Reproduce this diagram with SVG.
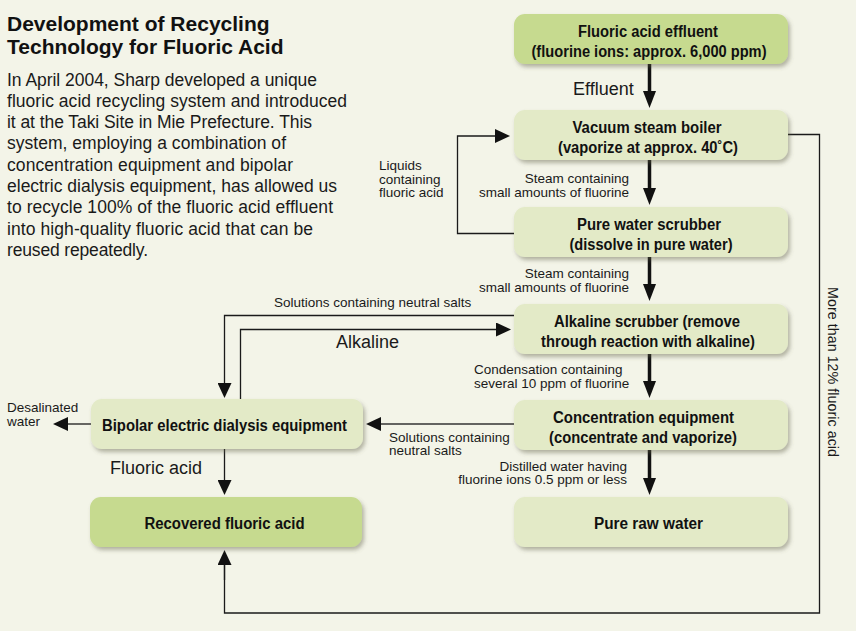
<svg xmlns="http://www.w3.org/2000/svg" width="856" height="631" viewBox="0 0 856 631">
<style>
.bg{fill:#f3f4e8}
.box{stroke:none;filter:url(#sh)}
.dark{fill:#c6da8f}
.light{fill:#e3eac7}
.nt{font-family:"Liberation Sans",Arial,sans-serif;font-weight:bold;font-size:16px;fill:#111;text-anchor:middle}
.sm{font-family:"Liberation Sans",Arial,sans-serif;font-size:13.5px;fill:#1a1a1a}
.lg{font-family:"Liberation Sans",Arial,sans-serif;font-size:18px;fill:#1a1a1a}
.body{font-family:"Liberation Sans",Arial,sans-serif;font-size:17.5px;fill:#1a1a1a}
.head{font-family:"Liberation Sans",Arial,sans-serif;font-size:21px;font-weight:bold;fill:#111}
.thick{stroke:#111;stroke-width:3.5;fill:none;marker-end:url(#ah)}
.thin{stroke:#1a1a1a;stroke-width:1.3;fill:none}
.tha{marker-end:url(#at)}
.r{text-anchor:end}
</style>
<defs>
<filter id="sh" x="-10%" y="-20%" width="125%" height="160%">
<feDropShadow dx="2" dy="3" stdDeviation="2" flood-color="#5e5e45" flood-opacity="0.45"/>
</filter>
<marker id="ah" markerUnits="userSpaceOnUse" markerWidth="17" markerHeight="13" refX="7" refY="6.5" orient="auto">
<path d="M0,0 L17,6.5 L0,13 Z" fill="#111"/>
</marker>
<marker id="at" markerUnits="userSpaceOnUse" markerWidth="15" markerHeight="14" refX="5" refY="7" orient="auto">
<path d="M0,0 L15,7 L0,14 Z" fill="#111"/>
</marker>
</defs>
<rect class="bg" x="0" y="0" width="856" height="631"/>

<g id="intro">
<text class="head" x="7" y="31">Development of Recycling</text>
<text class="head" x="7" y="54">Technology for Fluoric Acid</text>
<text class="body" x="7" y="85.5" textLength="310" lengthAdjust="spacing">In April 2004, Sharp developed a unique</text>
<text class="body" x="7" y="106.8" textLength="340" lengthAdjust="spacing">fluoric acid recycling system and introduced</text>
<text class="body" x="7" y="128.1" textLength="305" lengthAdjust="spacing">it at the Taki Site in Mie Prefecture. This</text>
<text class="body" x="7" y="149.4" textLength="279" lengthAdjust="spacing">system, employing a combination of</text>
<text class="body" x="7" y="170.7" textLength="286" lengthAdjust="spacing">concentration equipment and bipolar</text>
<text class="body" x="7" y="192" textLength="330" lengthAdjust="spacing">electric dialysis equipment, has allowed us</text>
<text class="body" x="7" y="213.3" textLength="326" lengthAdjust="spacing">to recycle 100% of the fluoric acid effluent</text>
<text class="body" x="7" y="234.6" textLength="306" lengthAdjust="spacing">into high-quality fluoric acid that can be</text>
<text class="body" x="7" y="255.9" textLength="141" lengthAdjust="spacing">reused repeatedly.</text>
</g>

<g id="connectors">
<line class="thick" x1="649.5" y1="64" x2="649.5" y2="98"/>
<line class="thick" x1="649.5" y1="160" x2="649.5" y2="195"/>
<line class="thick" x1="649.5" y1="257" x2="649.5" y2="291"/>
<line class="thick" x1="649.5" y1="354" x2="649.5" y2="388"/>
<line class="thick" x1="649.5" y1="450" x2="649.5" y2="485"/>
<polyline class="thin tha" points="514,233.5 457.5,233.5 457.5,136 500,136"/>
<polyline class="thin" points="788,134.5 819.5,134.5 819.5,613 224.5,613 224.5,560"/>
<line class="thin tha" x1="224.5" y1="580" x2="224.5" y2="560"/>
<polyline class="thin tha" points="514,315.5 224.5,315.5 224.5,388"/>
<polyline class="thin tha" points="240.5,399 240.5,329.5 501,329.5"/>
<line class="thin tha" x1="514" y1="424" x2="376" y2="424" style="stroke:#333;stroke-width:1.6"/>
<line class="thin tha" x1="91" y1="424" x2="63" y2="424"/>
<line class="thin tha" x1="224.5" y1="449" x2="224.5" y2="485"/>
<text class="lg" x="573" y="95">Effluent</text>
<text class="sm" x="379" y="170">Liquids</text>
<text class="sm" x="379" y="183.5">containing</text>
<text class="sm" x="379" y="197">fluoric acid</text>
<text class="sm r" x="629" y="183">Steam containing</text>
<text class="sm r" x="629" y="196.5">small amounts of fluorine</text>
<text class="sm r" x="629" y="278">Steam containing</text>
<text class="sm r" x="629" y="291.5">small amounts of fluorine</text>
<text class="sm" x="274" y="306.5">Solutions containing neutral salts</text>
<text class="lg" x="336" y="348">Alkaline</text>
<text class="sm" x="474" y="374">Condensation containing</text>
<text class="sm" x="474" y="387.5">several 10 ppm of fluorine</text>
<text class="sm" x="389" y="441.5">Solutions containing</text>
<text class="sm" x="389" y="455">neutral salts</text>
<text class="sm r" x="627" y="470.5">Distilled water having</text>
<text class="sm r" x="627" y="484">fluorine ions 0.5 ppm or less</text>
<text class="sm" x="7" y="412">Desalinated</text>
<text class="sm" x="7" y="426">water</text>
<text class="lg" x="110" y="474">Fluoric acid</text>
<text class="sm" transform="translate(828,372) rotate(90)" text-anchor="middle" style="font-size:14.3px" textLength="170" lengthAdjust="spacing">More than 12% fluoric acid</text>
</g>

<g id="n1">
<rect class="box dark" x="514" y="14" width="274" height="50" rx="11"/>
<text class="nt" x="648" y="37" textLength="140" lengthAdjust="spacingAndGlyphs">Fluoric acid effluent</text>
<text class="nt" x="649" y="57" textLength="235" lengthAdjust="spacingAndGlyphs">(fluorine ions: approx. 6,000 ppm)</text>
</g>
<g id="n2">
<rect class="box light" x="514" y="110" width="274" height="50" rx="11"/>
<text class="nt" x="647" y="132.5" textLength="149" lengthAdjust="spacingAndGlyphs">Vacuum steam boiler</text>
<text class="nt" x="648" y="152.5" textLength="180" lengthAdjust="spacingAndGlyphs">(vaporize at approx. 40˚C)</text>
</g>
<g id="n3">
<rect class="box light" x="514" y="207" width="274" height="50" rx="11"/>
<text class="nt" x="649" y="229.5" textLength="144" lengthAdjust="spacingAndGlyphs">Pure water scrubber</text>
<text class="nt" x="651" y="249.5" textLength="163" lengthAdjust="spacingAndGlyphs">(dissolve in pure water)</text>
</g>
<g id="n4">
<rect class="box light" x="514" y="304" width="274" height="50" rx="11"/>
<text class="nt" x="647" y="326.5" textLength="186" lengthAdjust="spacingAndGlyphs">Alkaline scrubber (remove</text>
<text class="nt" x="648" y="346.5" textLength="214" lengthAdjust="spacingAndGlyphs">through reaction with alkaline)</text>
</g>
<g id="n5">
<rect class="box light" x="514" y="400" width="274" height="50" rx="11"/>
<text class="nt" x="643.5" y="422.5" textLength="181" lengthAdjust="spacingAndGlyphs">Concentration equipment</text>
<text class="nt" x="643" y="442.5" textLength="188" lengthAdjust="spacingAndGlyphs">(concentrate and vaporize)</text>
</g>
<g id="n6">
<rect class="box light" x="514" y="497" width="274" height="50" rx="11"/>
<text class="nt" x="648.5" y="528.5" textLength="109" lengthAdjust="spacingAndGlyphs">Pure raw water</text>
</g>
<g id="n7">
<rect class="box light" x="91" y="399" width="272" height="50" rx="11"/>
<text class="nt" x="224.5" y="431" textLength="245" lengthAdjust="spacingAndGlyphs">Bipolar electric dialysis equipment</text>
</g>
<g id="n8">
<rect class="box dark" x="90" y="497" width="272" height="50" rx="11"/>
<text class="nt" x="224.5" y="528.5" textLength="160" lengthAdjust="spacingAndGlyphs">Recovered fluoric acid</text>
</g>
</svg>
